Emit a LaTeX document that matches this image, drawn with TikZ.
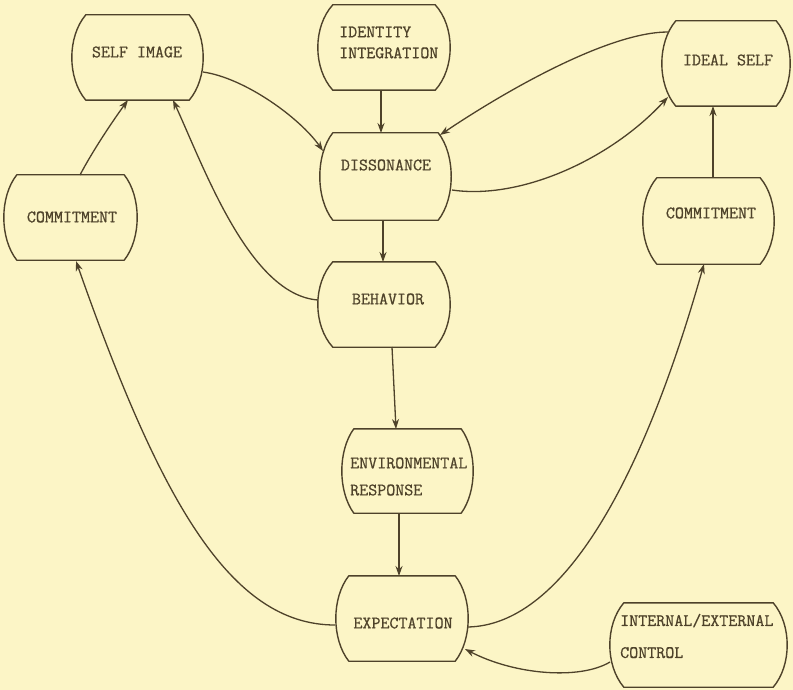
\documentclass[tikz,border=0pt]{standalone}
\usepackage{fontspec}
\newfontfamily\twfont{Latin Modern Mono}[FakeBold=0.7]
\usetikzlibrary{arrows.meta}
\definecolor{paper}{RGB}{252,245,198}
\definecolor{ink}{RGB}{78,66,42}
\tikzset{
  frame/.style={rectangle, draw=none, inner sep=0pt},
  boxline/.style={draw=ink, line width=1.4pt, line join=round},
  lbl/.style={inner sep=0pt, text=ink, font=\fontsize{17.5}{21}\twfont},
  conn/.style={draw=ink, line width=1.3pt, -{Stealth[length=10pt,width=7pt]}}
}
\newcommand\barrel[2]{%
  \pgfmathsetmacro\bb{#2}\pgfmathsetmacro\bc{#2/3}%
  \draw[boxline] ([xshift=\bb pt]#1.north west) -- ([xshift=-\bb pt]#1.north east)
    .. controls ([xshift=\bc pt,yshift=-22pt]#1.north east) and ([xshift=\bc pt,yshift=22pt]#1.south east) .. ([xshift=-\bb pt]#1.south east)
    -- ([xshift=\bb pt]#1.south west)
    .. controls ([xshift=-\bc pt,yshift=22pt]#1.south west) and ([xshift=-\bc pt,yshift=-22pt]#1.north west) .. cycle;}
\begin{document}
\begin{tikzpicture}[x=1pt,y=-1pt]
\useasboundingbox (0,0) rectangle (793,690);
\fill[paper] (0,0) rectangle (793,690);
% boxes
\node[frame, minimum width=131pt, minimum height=85pt] (selfimg) at (137.5,57.5) {};
\node[frame, minimum width=132pt, minimum height=85pt] (ident) at (384,47.5) {};
\node[frame, minimum width=131pt, minimum height=87pt] (diss) at (385.5,176.5) {};
\node[frame, minimum width=128pt, minimum height=85pt] (ideal) at (726,63.5) {};
\node[frame, minimum width=133pt, minimum height=85pt] (commL) at (70.5,217.5) {};
\node[frame, minimum width=131pt, minimum height=86pt] (commR) at (708.5,221) {};
\node[frame, minimum width=132pt, minimum height=85pt] (behav) at (384,304.5) {};
\node[frame, minimum width=131pt, minimum height=84pt] (env) at (407.5,471) {};
\node[frame, minimum width=132pt, minimum height=85pt] (expect) at (402,618.5) {};
\node[frame, minimum width=177pt, minimum height=84pt] (intext) at (698.5,645) {};
\barrel{selfimg}{14}
\barrel{ident}{15}
\barrel{diss}{13}
\barrel{ideal}{14}
\barrel{commL}{13}
\barrel{commR}{14}
\barrel{behav}{15}
\barrel{env}{12}
\barrel{expect}{13}
\barrel{intext}{14}
% labels
\node[lbl] (tselfimg) at (137,52) {SELF IMAGE};
\node[lbl, align=left, anchor=west, font=\fontsize{17.5}{21}\twfont] (tident) at (339,42.5) {IDENTITY\\INTEGRATION};
\node[lbl] (tdiss) at (386,165) {DISSONANCE};
\node[lbl] (tideal) at (728,60) {IDEAL SELF};
\node[lbl] (tcommL) at (72,217) {COMMITMENT};
\node[lbl] (tcommR) at (711,213) {COMMITMENT};
\node[lbl] (tbehav) at (388,299) {BEHAVIOR};
\node[lbl, align=left, anchor=west, font=\fontsize{17.5}{27}\twfont] (tenv) at (350,476.5) {ENVIRONMENTAL\\RESPONSE};
\node[lbl] (texpect) at (403,623) {EXPECTATION};
\node[lbl, align=left, anchor=west, font=\fontsize{17.5}{32}\twfont] (tintext) at (620,636) {INTERNAL/EXTERNAL\\CONTROL};
% connectors
\draw[conn] ([shift={(65.5,14.5)}]selfimg.center) .. controls (245,78) and (300,118) .. ([shift={(-62.5,-25.5)}]diss.center);
\draw[conn] ([shift={(-3,42.5)}]ident.center) -- ([shift={(-4.5,-43.5)}]diss.center);
\draw[conn] ([shift={(-58,-31.5)}]ideal.center) .. controls (610,32) and (510,88) .. ([shift={(54.5,-41.5)}]diss.center);
\draw[conn] ([shift={(66.5,13.5)}]diss.center) .. controls (520,200) and (610,160) .. ([shift={(-58,33.5)}]ideal.center);
\draw[conn] ([shift={(-2.5,43.5)}]diss.center) -- ([shift={(-1,-42.5)}]behav.center);
\draw[conn] ([shift={(-66,-4.5)}]behav.center) .. controls (250,295) and (205,170) .. ([shift={(35.5,42.5)}]selfimg.center);
\draw[conn] ([shift={(9.5,-42.5)}]commL.center) .. controls (92,152) and (112,122) .. ([shift={(-9.5,42.5)}]selfimg.center);
\draw[conn] ([shift={(8,42.5)}]behav.center) -- ([shift={(-11.5,-42)}]env.center);
\draw[conn] ([shift={(-8.5,42)}]env.center) -- ([shift={(-3,-42.5)}]expect.center);
\draw[conn] ([shift={(-67,6.5)}]expect.center) .. controls (230,625) and (160,500) .. ([shift={(5.5,43.5)}]commL.center);
\draw[conn] ([shift={(66,8.5)}]expect.center) .. controls (560,625) and (640,490) .. ([shift={(-4.5,43)}]commR.center);
\draw[conn] ([shift={(4.5,-43)}]commR.center) -- ([shift={(-13,42.5)}]ideal.center);
\draw[conn] ([shift={(-88.5,17)}]intext.center) .. controls (580,680) and (515,675) .. ([shift={(63,30.5)}]expect.center);
\end{tikzpicture}
\end{document}
